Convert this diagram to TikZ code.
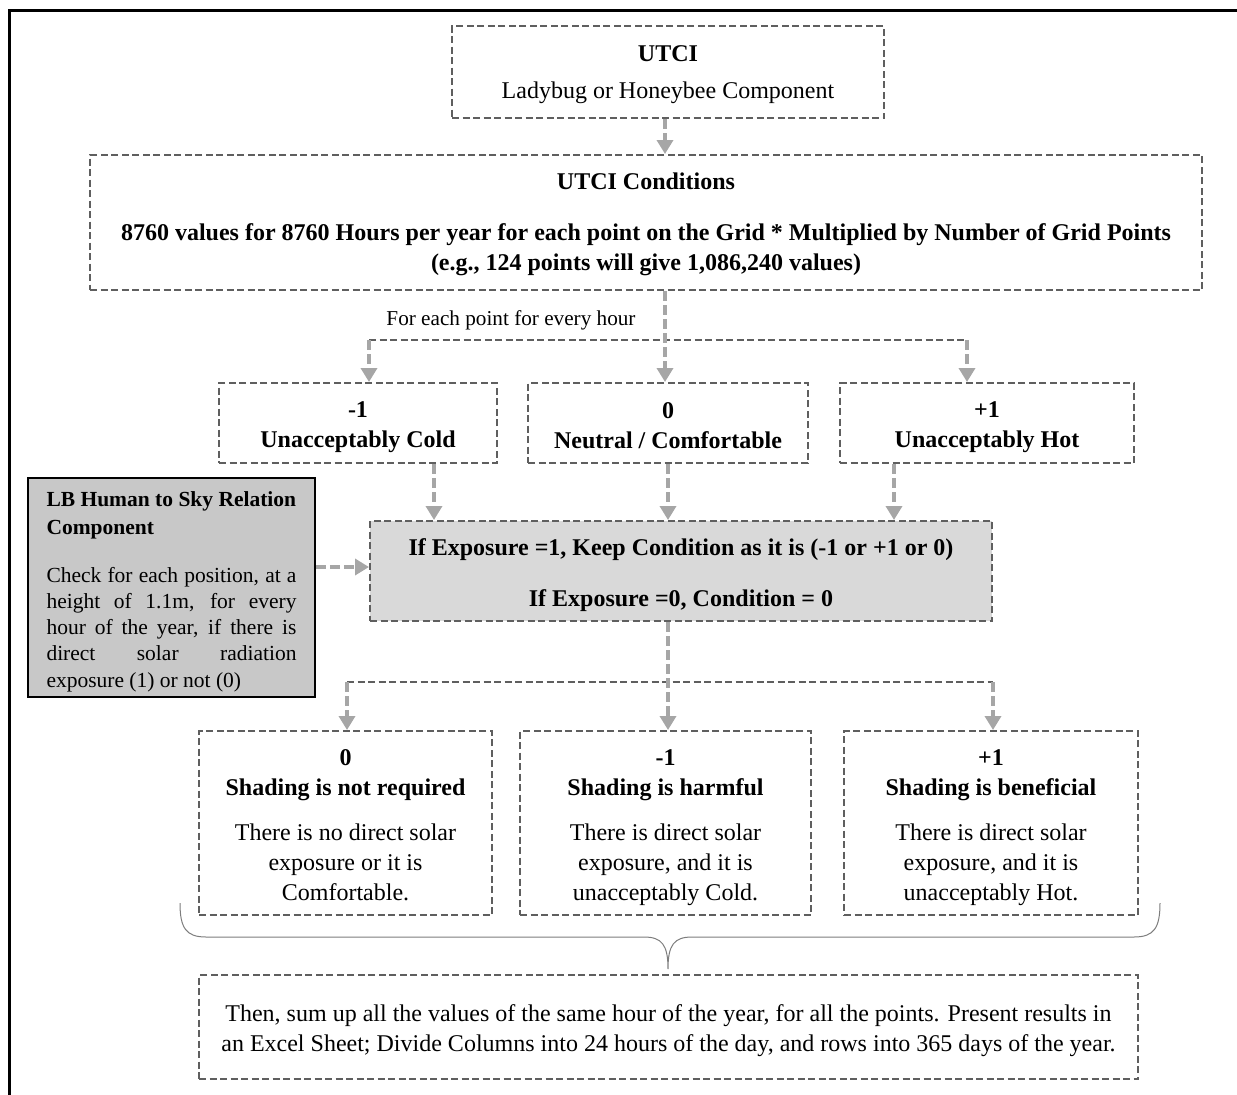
\documentclass[tikz,border=0pt]{standalone}
\usepackage{fontspec}
\setmainfont{Liberation Serif}
\usetikzlibrary{arrows.meta}
\definecolor{boxline}{RGB}{95,95,95}
\definecolor{arrowc}{RGB}{166,166,166}
\definecolor{fillmid}{RGB}{217,217,217}
\definecolor{fillleft}{RGB}{200,200,200}
\definecolor{bracec}{RGB}{125,125,125}
\newcommand{\bigreg}{\fontsize{24}{30}\selectfont}
\newcommand{\topst}{\rule{0pt}{25pt}}
\newcommand{\topsm}{\rule{0pt}{21pt}}
\newcommand{\botst}{\rule[-5pt]{0pt}{5pt}}
\begin{document}
\begin{tikzpicture}[x=1pt,y=-1pt,
  dbox/.style={draw=boxline, line width=2pt, dash pattern=on 7pt off 3.5pt,
    inner sep=0pt, align=center, font=\bigreg},
  hl/.style={draw=boxline, line width=2pt, dash pattern=on 7pt off 3.5pt},
  arr/.style={draw=arrowc, line width=3.5pt, dash pattern=on 10pt off 4pt,
    -{Triangle[width=16pt,length=14pt]}},
]
\useasboundingbox (0,0) rectangle (1237,1095);
\draw[line width=3pt] (9.5,1110) -- (9.5,10.5) -- (1250,10.5);

\node[dbox, minimum width=432pt, minimum height=92pt] (utci) at (668,72)
  {\topsm\bfseries UTCI\\[7pt]
   Ladybug or Honeybee Component\botst};
\node[dbox, minimum width=1112pt, minimum height=135pt] (cond) at (646,222.5)
  {\topsm\bfseries UTCI Conditions\\[21pt]
   \bfseries 8760 values for 8760 Hours per year for each point on the Grid * Multiplied by Number of Grid Points\\
   \bfseries (e.g., 124 points will give 1,086,240 values)\botst};

\node[dbox, minimum width=278pt, minimum height=80pt] (cold) at (358,423)
  {\topst\bfseries -1\\\bfseries Unacceptably Cold\botst};
\node[dbox, minimum width=280pt, minimum height=80pt] (neutral) at (668,423)
  {\topst\bfseries 0\\\bfseries Neutral / Comfortable\botst};
\node[dbox, minimum width=294pt, minimum height=80pt] (hot) at (987,423)
  {\topst\bfseries +1\\\bfseries Unacceptably Hot\botst};

\node[dbox, fill=fillmid, minimum width=622pt, minimum height=100pt] (expo) at (681,571)
  {\topst\bfseries If Exposure =1, Keep Condition as it is (-1 or +1 or 0)\\[21pt]
   \bfseries If Exposure =0, Condition = 0\botst};

\node[draw=black, line width=1.5pt, fill=fillleft, minimum width=287pt, minimum height=219pt,
  inner sep=0pt] (leftb) at (171.5,587.5)
  {\begin{minipage}{250pt}\vspace{8pt}\fontsize{21.5}{28}\selectfont
   \textbf{LB Human to Sky Relation}\\\textbf{Component}\par
   \fontsize{21.5}{26.3}\selectfont\vspace{21.7pt}
   Check for each position, at a\linebreak height of 1.1m, for every\linebreak
   hour of the year, if there is\linebreak direct solar radiation\linebreak
   exposure (1) or not (0)\end{minipage}};

\node[dbox, minimum width=293pt, minimum height=184pt] (b0) at (345.5,823)
  {\topst\bfseries 0\\\bfseries Shading is not required\\[15pt]
   There is no direct solar\\exposure or it is\\Comfortable.\botst};
\node[dbox, minimum width=291pt, minimum height=184pt] (b1) at (665.5,823)
  {\topst\bfseries -1\\\bfseries Shading is harmful\\[15pt]
   There is direct solar\\exposure, and it is\\unacceptably Cold.\botst};
\node[dbox, minimum width=294pt, minimum height=184pt] (b2) at (991,823)
  {\topst\bfseries +1\\\bfseries Shading is beneficial\\[15pt]
   There is direct solar\\exposure, and it is\\unacceptably Hot.\botst};

\node[dbox, minimum width=939pt, minimum height=104pt] (sum) at (668.5,1027)
  {\topst Then, sum up all the values of the same hour of the year, for all the points. Present results in\\
   an Excel Sheet; Divide Columns into 24 hours of the day, and rows into 365 days of the year.\botst};

\node[font=\fontsize{21.2}{26}\selectfont] (lbl) at (511,320) {For each point for every hour};

% connectors
\draw[arr] (utci.south -| 665,0) -- (cond.north -| 665,0);
\coordinate (s1) at (665,340);
\coordinate (l1) at (369,340);
\coordinate (r1) at (967,340);
\draw[hl] (l1) -- (r1);
\draw[arr] (cond.south -| s1) -- (neutral.north -| s1);
\draw[arr] (l1) -- (l1 |- cold.north);
\draw[arr] (r1) -- (r1 |- hot.north);

\coordinate (c1) at (434,0);
\coordinate (c2) at (668,0);
\coordinate (c3) at (894,0);
\draw[arr] (cold.south -| c1) -- (expo.north -| c1);
\draw[arr] (neutral.south -| c2) -- (expo.north -| c2);
\draw[arr] (hot.south -| c3) -- (expo.north -| c3);

\coordinate (ya) at (0,567);
\draw[arr] (leftb.east |- ya) -- (expo.west |- ya);

\coordinate (s2) at (668,682);
\coordinate (l2) at (347,682);
\coordinate (r2) at (993,682);
\draw[hl] (l2) -- (r2);
\draw[arr] (expo.south -| s2) -- (b1.north -| s2);
\draw[arr] (l2) -- (l2 |- b0.north);
\draw[arr] (r2) -- (r2 |- b2.north);

% brace
\coordinate (bl) at (180,903);
\coordinate (bt) at (668,969);
\coordinate (br) at (1160,903);
\draw[bracec, line width=1pt] (bl) .. controls (180,928) and (186,937) .. (206,937)
  -- (644,937) .. controls (662,937) and (668,945) .. (bt)
  .. controls (668,945) and (674,937) .. (692,937)
  -- (1134,937) .. controls (1154,937) and (1160,928) .. (br);
\end{tikzpicture}
\end{document}
